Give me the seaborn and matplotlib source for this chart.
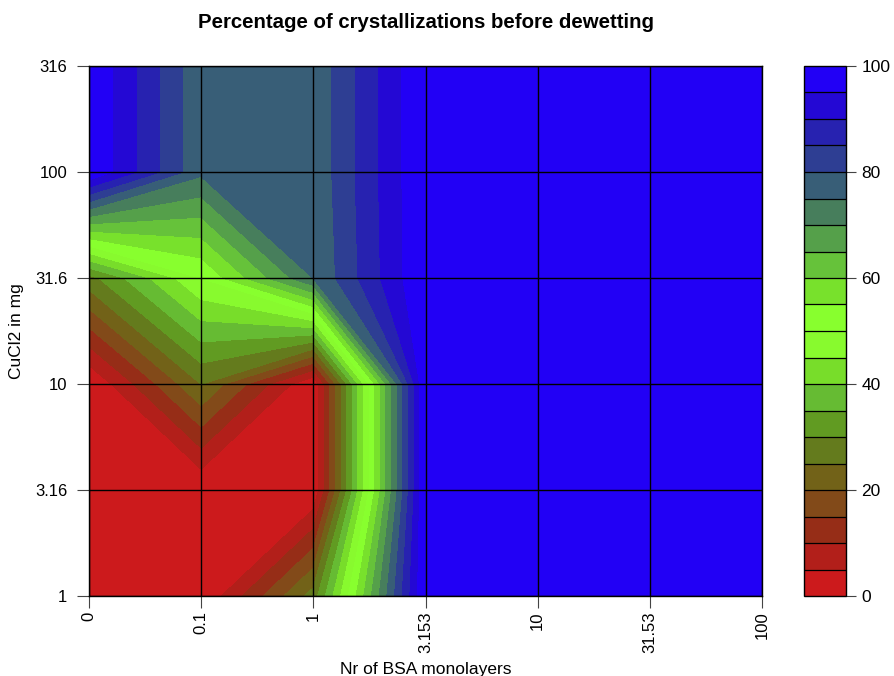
import numpy as np
import matplotlib
matplotlib.use("Agg")
import matplotlib.pyplot as plt
import seaborn as sns

# Axis categories (grid positions are just the index of each label)
bsa_labels = ["0", "0.1", "1", "3.153", "10", "31.53", "100"]
cucl2_labels = ["1", "3.16", "10", "31.6", "100", "316"]

# % of crystallizations before dewetting, one list per CuCl2 row (bottom -> top)
pct_cu_1 = [0, 0, 27, 100, 100, 100, 100]
pct_cu_3_16 = [0, 0, 0, 100, 100, 100, 100]
pct_cu_10 = [0, 25, 0, 100, 100, 100, 100]
pct_cu_31_6 = [28, 50, 75, 100, 100, 100, 100]
pct_cu_100 = [100, 76, 76, 100, 100, 100, 100]
pct_cu_316 = [100, 76, 76, 100, 100, 100, 100]

levels = list(range(0, 105, 5))
cbar_ticks = [0, 20, 40, 60, 80, 100]

# one colour per 5% band, red -> green -> blue
band_colors = [
    "#CC1A1C", "#B21F1A", "#962D17", "#824A19", "#726218",
    "#647B1D", "#619B22", "#66BB33", "#78DD2A", "#88FA2E",
    "#88FF2E", "#78E12C", "#66C23A", "#55A04A", "#477E5C",
    "#385E77", "#2E3E93", "#2722B0", "#2408D4", "#2200F5",
]

sns.set_style("white")
plt.rcParams["font.family"] = ["Liberation Sans", "DejaVu Sans"]
plt.rcParams["text.color"] = "black"
plt.rcParams["axes.labelcolor"] = "black"
plt.rcParams["xtick.color"] = "black"
plt.rcParams["ytick.color"] = "black"

z = np.array([pct_cu_1, pct_cu_3_16, pct_cu_10, pct_cu_31_6, pct_cu_100, pct_cu_316])
xi = np.arange(len(bsa_labels))
yi = np.arange(len(cucl2_labels))

W, H = 894, 676
fig = plt.figure(figsize=(W / 100, H / 100), dpi=100)
ax = fig.add_axes([89 / W, (H - 596) / H, 673 / W, 530 / H])
cax = fig.add_axes([804 / W, (H - 596) / H, 42 / W, 530 / H])

cf = ax.contourf(xi, yi, z, levels=levels, colors=band_colors)
# close the hairline seams between bands
cf.set_edgecolor("face")
cf.set_linewidth(0.4)

# black grid at every tick, drawn over the fill
for v in xi:
    ax.axvline(v, color="black", lw=1.0, zorder=3)
for v in yi:
    ax.axhline(v, color="black", lw=1.0, zorder=3)

ax.set_xlim(xi[0], xi[-1])
ax.set_ylim(yi[0], yi[-1])
ax.set_xticks(xi, bsa_labels, rotation=90)
ax.set_yticks(yi, cucl2_labels)
ax.tick_params(bottom=True, left=True, direction="out", length=8.5, width=0.8,
               color="#444444", labelsize=12)
ax.tick_params(axis="x", pad=2.5)
ax.tick_params(axis="y", pad=7)
for s in ax.spines.values():
    s.set_color("black")
    s.set_linewidth(1.0)
    s.set_zorder(4)

ax.set_xlabel("Nr of BSA monolayers", fontsize=12.5)
ax.xaxis.set_label_coords(0.5, -0.124)
ax.set_ylabel("CuCl2 in mg", fontsize=12.5)
ax.yaxis.set_label_coords(-0.0966, 0.5)

cb = fig.colorbar(cf, cax=cax, drawedges=True, ticks=cbar_ticks)
cb.outline.set_edgecolor("black")
cb.outline.set_linewidth(1.0)
cb.dividers.set_color("black")
cb.dividers.set_linewidth(0.9)
cax.tick_params(right=True, direction="out", length=7, width=0.8,
                color="#444444", labelsize=12.5, pad=4)

fig.text(425.5 / W, 1 - 23 / H, "Percentage of crystallizations before dewetting",
         ha="center", va="center", fontsize=14.7, fontweight="bold")

fig.savefig("out.png", dpi=100)
